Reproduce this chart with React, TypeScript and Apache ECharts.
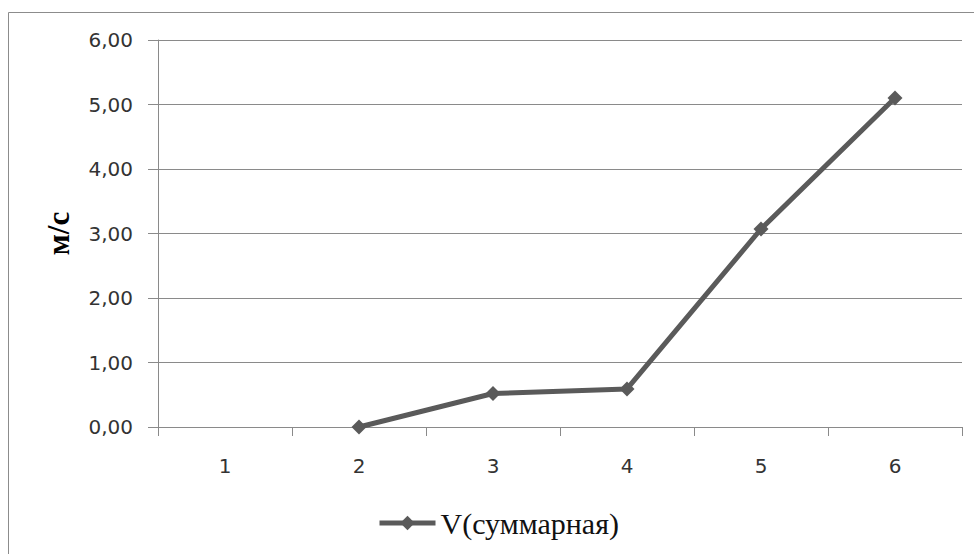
import React, { useEffect, useRef } from "react";
import * as echarts from "echarts";

const categories = ["1", "2", "3", "4", "5", "6"];
const seriesName = "V(суммарная)";
const speedValues: (number | null)[] = [null, 0.0, 0.52, 0.59, 3.07, 5.1];
const yAxisTitle = "м/с";

const W = 974;
const H = 554;

export default function App() {
  const ref = useRef<HTMLDivElement>(null);

  useEffect(() => {
    if (!ref.current) return;
    const chart = echarts.init(ref.current, null, { renderer: "svg" });
    const gridColor = "#8a8a8a";
    const lineColor = "#5a5a5a";
    chart.setOption({
      animation: false,
      backgroundColor: "#ffffff",
      graphic: [
        {
          type: "rect",
          shape: { x: 8.5, y: 12.5, width: W, height: H },
          style: { fill: "none", stroke: "#8c8c8c", lineWidth: 1 },
          silent: true,
        },
      ],
      grid: { left: 158, right: 12, top: 40, bottom: 127 },
      legend: {
        data: [{ name: seriesName }],
        left: 372,
        top: 503,
        itemWidth: 56,
        itemHeight: 18,
        itemGap: 3,
        lineStyle: { width: 5 },
        textStyle: {
          fontFamily: "Liberation Serif, Times New Roman, serif",
          fontSize: 30,
          color: "#111111",
        },
      },
      xAxis: {
        type: "category",
        data: categories,
        boundaryGap: true,
        axisLine: { lineStyle: { color: gridColor, width: 1 } },
        axisTick: { show: true, length: 9, lineStyle: { color: gridColor } },
        axisLabel: {
          margin: 29,
          fontFamily: "DejaVu Sans, sans-serif",
          fontSize: 20,
          color: "#333333",
        },
      },
      yAxis: {
        type: "value",
        min: 0,
        max: 6,
        interval: 1,
        name: yAxisTitle,
        nameLocation: "middle",
        nameRotate: 90,
        nameGap: 84,
        nameTextStyle: {
          fontFamily: "Liberation Serif, Times New Roman, serif",
          fontWeight: "bold",
          fontSize: 31,
          color: "#000000",
        },
        axisLine: { show: true, lineStyle: { color: gridColor, width: 1 } },
        axisTick: { show: true, length: 10, lineStyle: { color: gridColor } },
        splitLine: { show: true, lineStyle: { color: gridColor, width: 1 } },
        axisLabel: {
          margin: 25,
          fontFamily: "DejaVu Sans, sans-serif",
          fontSize: 20,
          color: "#333333",
          formatter: (v: number) => v.toFixed(2).replace(".", ","),
        },
      },
      series: [
        {
          name: seriesName,
          type: "line",
          data: speedValues,
          symbol: "diamond",
          symbolSize: 15,
          connectNulls: false,
          itemStyle: { color: lineColor },
          lineStyle: { color: lineColor, width: 5 },
        },
      ],
    });
    return () => chart.dispose();
  }, []);

  return (
    <div
      ref={ref}
      style={{ position: "fixed", left: 0, top: 0, width: W, height: H }}
    />
  );
}
